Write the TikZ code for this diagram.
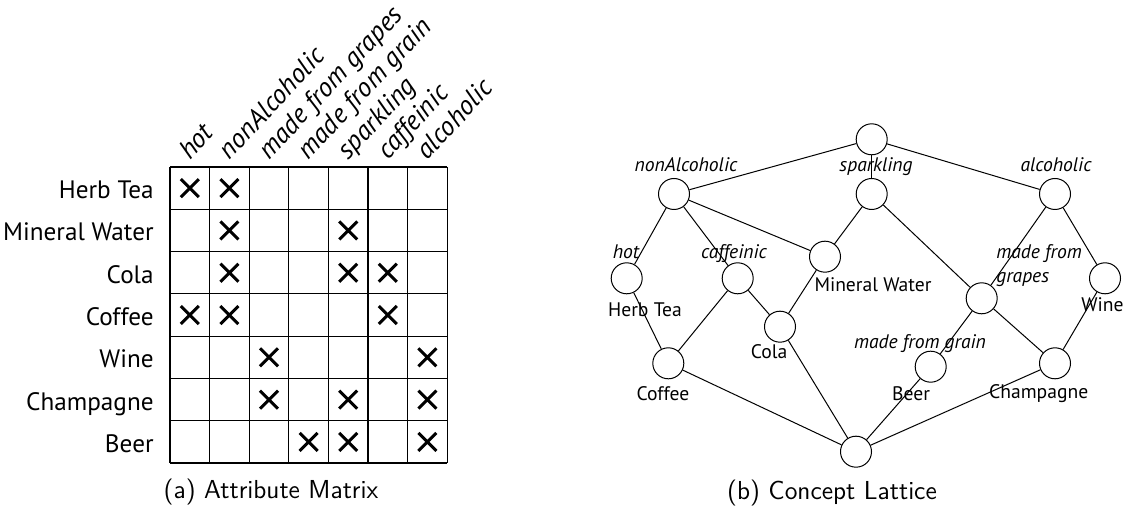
\documentclass[tikz,border=0pt]{standalone}
\usepackage{fontspec}
\setmainfont{PT Sans}
\usetikzlibrary{shapes.misc}
\tikzset{
  rowlab/.style={anchor=base east,inner sep=0pt,font=\fontsize{12.6}{15}\selectfont},
  attr/.style={anchor=base west,rotate=47,inner sep=0pt,font=\fontsize{13.5}{16}\selectfont\itshape},
  xcell/.style={cross out,draw,line width=1.5pt,minimum size=7.5pt,inner sep=0pt},
  concept/.style={circle,draw,line width=0.5pt,minimum size=15.5pt,inner sep=0pt},
  lab/.style={anchor=base,inner sep=0pt,font=\fontsize{9.8}{12}\selectfont},
  ilab/.style={lab,font=\fontsize{9.8}{12}\selectfont\itshape},
  capt/.style={anchor=base,inner sep=0pt,font=\sffamily\fontsize{13}{15}\selectfont}
}
\begin{document}
\begin{tikzpicture}[x=0.5pt,y=-0.5pt]
  \useasboundingbox (0,0) rectangle (1132,513);
  % attribute matrix
  \foreach \i in {0,...,7} \draw[line width=0.6pt] (170+39.6*\i,167) -- (170+39.6*\i,463);
  \foreach \j in {0,...,7} \draw[line width=0.6pt] (170,167+42.3*\j) -- (447.2,167+42.3*\j);
  \foreach \t [count=\r] in {Herb Tea,Mineral Water,Cola,Coffee,Wine,Champagne,Beer}
    \node[rowlab] (r\r) at (154,167+42.3*\r-21.15+10.5) {\t};
  \foreach \t [count=\c] in {hot,nonAlcoholic,made from grapes,made from grain,sparkling,caffeinic,alcoholic}
    \node[attr] (h\c) at (170+39.6*\c-19.8,161) {\t};
  \foreach \c/\r in {1/1,2/1,2/2,5/2,2/3,5/3,6/3,1/4,2/4,6/4,3/5,7/5,3/6,5/6,7/6,4/7,5/7,7/7}
    \node[xcell] (x\c\r) at (170+39.6*\c-19.8,167+42.3*\r-21.15) {};
  \node[capt] (capa) at (271,499) {(a) Attribute Matrix};

  % concept lattice
  \node[concept] (top) at (871.7,139.3) {};
  \node[concept] (nonalc) at (674,194) {};
  \node[concept] (spark) at (871.7,194) {};
  \node[concept] (alc) at (1055,194) {};
  \node[concept] (hot) at (626.7,278.3) {};
  \node[concept] (caff) at (737.7,278.3) {};
  \node[concept] (water) at (825,256.7) {};
  \node[concept] (cola) at (780,326.7) {};
  \node[concept] (grapes) at (981.7,298.3) {};
  \node[concept] (wine) at (1105,278.3) {};
  \node[concept] (beer) at (930.7,366.7) {};
  \node[concept] (champ) at (1055,363.3) {};
  \node[concept] (coffee) at (668.3,363.3) {};
  \node[concept] (bot) at (856,451.7) {};
  \foreach \a/\b in {top/nonalc,top/spark,top/alc,nonalc/hot,nonalc/caff,nonalc/water,
    spark/water,spark/grapes,alc/grapes,alc/wine,hot/coffee,caff/coffee,caff/cola,
    water/cola,grapes/beer,grapes/champ,wine/champ,coffee/bot,cola/bot,beer/bot,champ/bot}
    \draw[line width=0.5pt] (\a) -- (\b);
  \node[ilab] (lnonalc) at (686,172) {nonAlcoholic};
  \node[ilab] (lspark) at (876,172) {sparkling};
  \node[ilab] (lalc) at (1056,172) {alcoholic};
  \node[ilab] (lhot) at (626,259) {hot};
  \node[ilab] (lcaff) at (734,259) {caffeinic};
  \node[ilab,anchor=base west] (lgrapes) at (996,259) {made from};
  \node[ilab,anchor=base west] (lgrapes2) at (996,283) {grapes};
  \node[ilab] (lgrain) at (920,349) {made from grain};
  \node[lab] (lherb) at (645,316.7) {Herb Tea};
  \node[lab] (lwater) at (873,291.7) {Mineral Water};
  \node[lab] (lcola) at (769,359) {Cola};
  \node[lab] (lwine) at (1102.5,312) {Wine};
  \node[lab] (lbeer) at (911,400.7) {Beer};
  \node[lab] (lchamp) at (1038.7,399) {Champagne};
  \node[lab] (lcoffee) at (663,400.7) {Coffee};
  \node[capt] (capb) at (832,500) {(b) Concept Lattice};
\end{tikzpicture}
\end{document}
